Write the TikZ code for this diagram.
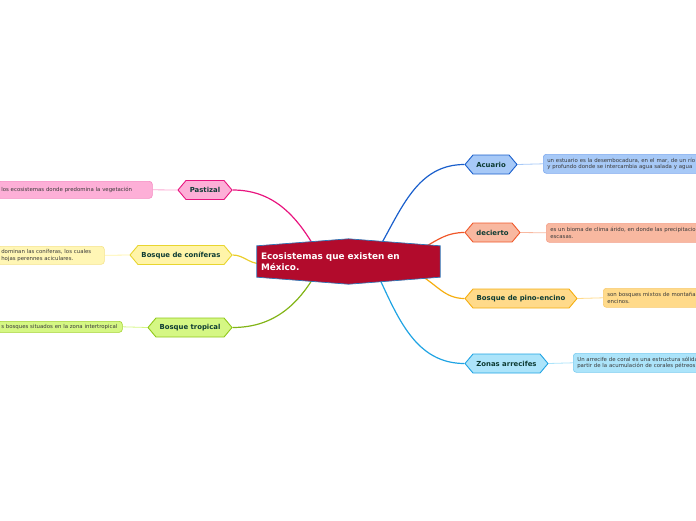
\documentclass[tikz,border=0pt]{standalone}
\usepackage{fontspec}
\setmainfont{DejaVu Sans}
\usetikzlibrary{shapes.symbols,backgrounds}

\definecolor{rootred}{HTML}{B20B2C}
\definecolor{rootblue}{HTML}{2E75B6}
\definecolor{labelgreen}{HTML}{0D3B33}
\definecolor{detailgray}{HTML}{3A3A3A}
\definecolor{pinkfill}{HTML}{FDAFD7}
\definecolor{pinkline}{HTML}{E8157F}
\definecolor{pinksoft}{HTML}{F58BC2}
\definecolor{yellowfill}{HTML}{FFF4A8}
\definecolor{yellowline}{HTML}{E8D530}
\definecolor{yellowsoft}{HTML}{F5E38A}
\definecolor{greenfill}{HTML}{D5F784}
\definecolor{greenline}{HTML}{90C81A}
\definecolor{greensoft}{HTML}{A4D32E}
\definecolor{bluefill}{HTML}{A7C9F7}
\definecolor{blueline}{HTML}{1A5FCC}
\definecolor{bluesoft}{HTML}{7FAAEE}
\definecolor{orangefill}{HTML}{F8B8A0}
\definecolor{orangeline}{HTML}{F0582A}
\definecolor{orangesoft}{HTML}{F4A08A}
\definecolor{goldfill}{HTML}{FFDA8A}
\definecolor{goldline}{HTML}{F5AE10}
\definecolor{goldsoft}{HTML}{F8CB70}
\definecolor{skyfill}{HTML}{ACE4FA}
\definecolor{skyline}{HTML}{1FA3E3}
\definecolor{skysoft}{HTML}{7ACCF0}

\begin{document}
\begin{tikzpicture}[x=1pt,y=-1pt,
    topic/.style={signal, signal to=west and east, signal pointer angle=100,
      minimum height=19pt, inner xsep=2pt, inner ysep=0pt, line width=0.9pt,
      font=\fontsize{6.9}{8}\selectfont\bfseries, text=labelgreen},
    detail/.style={rectangle, rounded corners=3pt, anchor=north west,
      inner xsep=4pt, inner ysep=1pt, align=left, line width=0.6pt,
      font=\fontsize{5.4}{6.6}\selectfont, text=detailgray},
    branch/.style={line width=1.2pt},
    twig/.style={line width=0.8pt}]
  \useasboundingbox (0,0) rectangle (696,520);
  \clip (0,0) rectangle (696,520);

  % central topic
  \node[rectangle, minimum width=183pt, minimum height=31pt, inner xsep=4pt,
    text width=175pt, align=left, text=white,
    font=\fontsize{8.9}{11}\selectfont\bfseries] (root) at (348.5,261.5)
    {Ecosistemas que existen en\\México.};

  % main topics
  \node[topic, fill=pinkfill, draw=pinkline, minimum width=54pt] (pastizal) at (205,190) {Pastizal};
  \node[topic, fill=yellowfill, draw=yellowline, minimum width=102pt] (coniferas) at (181,255) {Bosque de coníferas};
  \node[topic, fill=greenfill, draw=greenline, minimum width=84pt] (tropical) at (190,327.5) {Bosque tropical};
  \node[topic, fill=bluefill, draw=blueline, minimum width=52pt] (acuario) at (491,164.5) {Acuario};
  \node[topic, fill=orangefill, draw=orangeline, minimum width=55pt] (desierto) at (492.5,232.5) {decierto};
  \node[topic, fill=goldfill, draw=goldline, minimum width=112pt] (pino) at (521,298.5) {Bosque de pino-encino};
  \node[topic, fill=skyfill, draw=skyline, minimum width=83pt] (arrecifes) at (506.5,363.5) {Zonas arrecifes};

  % details
  \node[detail, fill=pinkfill, draw=pinksoft, text width=147pt, minimum height=17pt] (pastizaltxt) at (-3,181)
    {los ecosistemas donde predomina la vegetación};
  \node[detail, fill=yellowfill!85!white, draw=yellowsoft, text width=99pt, minimum height=18pt] (coniferastxt) at (-3,246)
    {dominan las coníferas, los cuales\\hojas perennes aciculares.};
  \node[detail, fill=greenfill, draw=greensoft, text width=117pt, minimum height=11pt, inner ysep=0pt] (tropicaltxt) at (-3,321)
    {s bosques situados en la zona intertropical};
  \node[detail, fill=bluefill, draw=bluesoft, text width=200pt, minimum height=19pt] (acuariotxt) at (543,154)
    {un estuario es la desembocadura, en el mar, de un río\\y profundo donde se intercambia agua salada y agua};
  \node[detail, fill=orangefill, draw=orangesoft, text width=200pt, minimum height=19pt] (desiertotxt) at (546,223)
    {es un bioma de clima árido, en donde las precipitaciones\\escasas.};
  \node[detail, fill=goldfill, draw=goldsoft, text width=200pt, minimum height=19pt] (pinotxt) at (603,288)
    {son bosques mixtos de montaña\\encinos.};
  \node[detail, fill=skyfill, draw=skysoft, text width=200pt, minimum height=19pt] (arrecifestxt) at (573,353)
    {Un arrecife de coral es una estructura sólida\\partir de la acumulación de corales pétreos};

  \begin{scope}[on background layer]
    % branches
    \draw[branch, pinkline] ([xshift=-33pt,yshift=-3pt]root.north) to[out=120,in=0] (pastizal.east);
    \draw[branch, yellowline!90!orange] ([xshift=3pt,yshift=-2pt]root.west) to[out=180,in=0] (coniferas.east);
    \draw[branch, greenline!90!black] ([xshift=-33pt,yshift=3pt]root.south) to[out=240,in=0] (tropical.east);
    \draw[branch, blueline] ([xshift=30pt,yshift=-3pt]root.north) to[out=60,in=180] (acuario.west);
    \draw[branch, orangeline] ([xshift=-15pt,yshift=-1pt]root.north east) to[out=30,in=180] (desierto.west);
    \draw[branch, goldline] ([xshift=-20pt,yshift=2pt]root.south east) to[out=-30,in=180] (pino.west);
    \draw[branch, skyline] ([xshift=29pt,yshift=3pt]root.south) to[out=-65,in=180] (arrecifes.west);
    % twigs
    \draw[twig, pinkfill!80!pinksoft] (pastizal.west) -- (pastizaltxt.east);
    \draw[twig, yellowfill] (coniferas.west) -- (coniferastxt.east);
    \draw[twig, greenfill] (tropical.west) -- (tropicaltxt.east);
    \draw[twig, bluefill] (acuario.east) -- (acuariotxt.west);
    \draw[twig, orangefill] (desierto.east) -- (desiertotxt.west);
    \draw[twig, goldfill] (pino.east) -- (pinotxt.west);
    \draw[twig, skyfill] (arrecifes.east) -- (arrecifestxt.west);
    % central shape
    \filldraw[fill=rootred, draw=rootblue, line width=0.7pt] (root.north west) -- ([yshift=7pt]root.north)
      -- (root.north east) -- (root.south east) -- ([yshift=-7pt]root.south)
      -- (root.south west) -- cycle;
  \end{scope}
\end{tikzpicture}
\end{document}
